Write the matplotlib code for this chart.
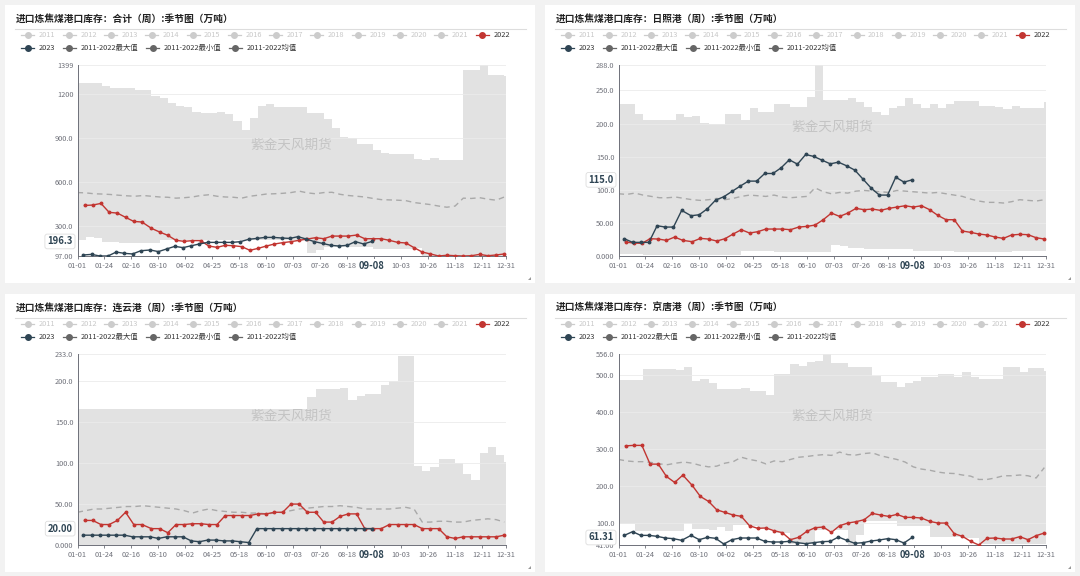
import numpy as np
import pandas as pd
import matplotlib
matplotlib.use('Agg')
import matplotlib.pyplot as plt
from matplotlib.patches import Rectangle, Polygon
from matplotlib.lines import Line2D

plt.rcParams['font.family'] = ['Noto Sans CJK SC', 'DejaVu Sans']

W, H = 1080, 576

# ---- dados (semanais) ----
dates_2022 = pd.date_range('2022-01-07', '2022-12-30', freq='7D')
dates_2023 = pd.date_range('2023-01-06', '2023-09-08', freq='7D')
band_idx = np.arange(0, 366, 7)   # grade semanal da faixa 2011-2022

titles = [
    '进口炼焦煤港口库存：合计（周）:季节图（万吨）',
    '进口炼焦煤港口库存：日照港（周）:季节图（万吨）',
    '进口炼焦煤港口库存：连云港（周）:季节图（万吨）',
    '进口炼焦煤港口库存：京唐港（周）:季节图（万吨）',
]
legend_years = ['2011', '2012', '2013', '2014', '2015', '2016', '2017', '2018',
                '2019', '2020', '2021', '2022']
legend_row2 = ['2023', '2011-2022最大值', '2011-2022最小值', '2011-2022均值']

# 合计
p1_2022 = [442, 445, 456, 395, 390, 361, 333, 329, 286, 261, 238, 204, 197, 202, 202, 165, 156, 170,
           167, 161, 136, 149, 165, 179, 188, 195, 204, 213, 222, 215, 233, 233, 233, 240, 215, 215,
           215, 204, 190, 186, 154, 124, 111, 97, 102, 99, 97, 99, 108, 99, 104, 111]
p1_2023 = [104, 108, 97, 97, 124, 115, 111, 133, 138, 127, 145, 163, 154, 167, 179, 190, 190, 190,
           190, 195, 211, 217, 224, 224, 220, 217, 229, 213, 195, 183, 170, 165, 170, 195, 179, 196.3]
p1_max = [1280, 1280, 1280, 1258, 1247, 1247, 1245, 1229, 1229, 1190, 1178, 1144, 1120, 1115, 1081,
          1076, 1076, 1081, 1065, 1017, 956, 1040, 1122, 1138, 1115, 1115, 1115, 1115, 1070, 1076,
          1031, 972, 908, 904, 860, 865, 820, 801, 792, 792, 792, 756, 751, 763, 754, 751, 751,
          1369, 1369, 1399, 1331, 1331, 1325]
p1_min = [206, 224, 217, 190, 195, 183, 183, 183, 183, 183, 208, 208, 208, 208, 208, 208, 208, 208,
          208, 208, 208, 208, 208, 208, 208, 208, 208, 208, 115, 138, 161, 161, 161, 161, 161, 161,
          142, 142, 142, 142, 142, 149, 97, 97, 97, 97, 97, 97, 97, 97, 97, 97, 97]
p1_mean = [530, 528, 522, 520, 517, 512, 508, 505, 510, 505, 500, 498, 492, 495, 500, 510, 515, 505,
           500, 498, 492, 505, 512, 520, 522, 525, 530, 540, 528, 522, 530, 532, 518, 510, 505, 500,
           490, 482, 480, 478, 475, 462, 455, 448, 438, 430, 438, 492, 490, 495, 485, 478, 500]

# 日照港
p2_2022 = [21.1, 19.6, 19.1, 26.1, 25.6, 23.6, 28.6, 23.6, 21.6, 26.6, 25.6, 22.6, 26.1, 33.2, 39.7,
           34.7, 36.7, 40.7, 40.7, 40.7, 39.7, 43.7, 44.7, 46.7, 54.8, 64.8, 59.8, 64.8, 71.9, 69.9,
           70.9, 68.9, 71.9, 73.9, 75.9, 73.9, 75.9, 69.9, 61.3, 54.8, 54.8, 37.7, 35.7, 33.2, 31.7,
           28.6, 26.6, 31.7, 32.7, 32.2, 27.6, 25.6]
p2_2023 = [26.1, 20.6, 20.6, 20.6, 45.7, 43.7, 43.7, 68.9, 60.8, 62.3, 71.4, 84.4, 89.5, 97.5, 105.5,
           113.1, 113.1, 124.6, 124.6, 133.2, 145.3, 138.7, 153.3, 150.3, 144.7, 139.2, 141.7, 136.2,
           129.7, 116.1, 102.5, 92.0, 92.0, 119.0, 111.6, 115.0]
p2_max = [230, 230, 214, 205, 205, 205, 205, 215, 210, 211, 201, 200, 200, 215, 215, 205, 223, 218,
          218, 229, 229, 225, 225, 240, 288, 235, 235, 235, 238, 233, 225, 218, 213, 224, 226, 238,
          230, 223, 230, 223, 230, 234, 234, 234, 227, 227, 225, 222, 227, 224, 224, 224, 232]
p2_min = [3, 3, 3, 2, 2, 2, 2, 2, 2, 2, 2, 2, 2, 2, 2, 7, 8, 8, 8, 6, 6, 6, 6, 6, 6, 6, 17, 15, 12, 12,
          11, 11, 10, 10, 11, 11, 7, 7, 7, 7, 7, 6, 6, 6, 6, 6, 6, 6, 7, 7, 7, 7, 7]
p2_mean = [94, 93, 95, 92, 90, 88, 88, 89, 87, 85, 84, 85, 87, 85, 87, 90, 92, 91, 90, 92, 89, 88, 89,
           90, 103, 97, 94, 96, 95, 98, 99, 98, 97, 96, 99, 98, 97, 96, 95, 96, 94, 92, 90, 86, 83,
           81, 81, 80, 82, 85, 84, 83, 85]

# 连云港
p3_2022 = [30, 30, 25, 25, 30, 40, 25, 25, 20, 20, 15, 25, 25, 26, 26, 25, 25, 36, 36, 36, 36, 38, 38,
           40, 40, 50, 50, 40, 40, 28, 28, 35, 38, 38, 20, 20, 20, 25, 25, 25, 25, 20, 20, 20, 10, 8,
           10, 10, 10, 10, 10, 12]
p3_2023 = [12, 12, 12, 12, 12, 12, 10, 10, 10, 8, 10, 10, 10, 5, 4, 6, 6, 5, 5, 4, 3, 20, 20, 20, 20,
           20, 20, 20, 20, 20, 20, 20, 20, 20, 20, 20]
p3_max = [166, 166, 166, 166, 166, 166, 166, 166, 166, 166, 166, 166, 166, 166, 166, 166, 166, 166,
          166, 166, 166, 166, 166, 166, 166, 166, 166, 166, 181, 191, 190, 190, 192, 177, 182, 184,
          184, 196, 200, 231, 231, 97, 90, 95, 105, 105, 100, 87, 79, 113, 120, 110, 101]
p3_min = [0, 0, 0, 0, 0, 0, 0, 0, 0, 0, 0, 0, 0, 0, 0, 0, 0, 0, 0, 0, 0, 0, 0, 0, 0, 0, 0, 0, 0, 0,
          0, 0, 0, 0, 0, 0, 0, 0, 0, 0, 0, 0, 0, 0, 0, 0, 0, 0, 0, 0, 0, 0, 0]
p3_mean = [40, 42, 44, 44, 45, 46, 47, 47, 48, 47, 46, 45, 44, 42, 39, 42, 44, 42, 41, 40, 40, 39, 39,
           38, 39, 40, 42, 44, 45, 46, 47, 47, 48, 47, 46, 44, 44, 44, 44, 45, 46, 44, 28, 28, 29, 29,
           28, 28, 30, 31, 32, 31, 28]

# 京唐港
p4_2022 = [308.8, 310, 310, 259.4, 259.4, 226, 210, 229.7, 202, 172, 158.7, 136, 129, 122, 118.3, 93,
           86, 87, 79.6, 74.3, 55.4, 61.7, 77.9, 87.7, 89.5, 75.2, 93.1, 100.3, 103.9, 109.3, 126.4,
           121.9, 118.3, 123.7, 115.6, 115.6, 113.8, 104.8, 100.3, 100.3, 71.6, 64.4, 50.9, 41, 59,
           59.9, 57.2, 57.2, 63.5, 55.4, 66.2, 73.4]
p4_2023 = [67, 77, 67, 67, 64.4, 59.9, 58.1, 53.6, 67, 55.4, 61.7, 59, 43.7, 55.4, 59.9, 59.9, 59.9,
           50.9, 49.1, 49.1, 50.9, 47.3, 44.6, 47.3, 50, 50.9, 62.6, 53.6, 45.5, 47.3, 51.8, 54.5,
           58.1, 55.4, 46.4, 61.31]
p4_max = [487, 487, 487, 516, 516, 516, 516, 514, 523, 485, 489, 478, 463, 462, 462, 466, 458, 458,
          446, 503, 503, 530, 524, 535, 538, 556, 532, 532, 523, 523, 521, 498, 480, 481, 468, 478,
          484, 496, 496, 503, 503, 496, 509, 496, 490, 490, 490, 523, 523, 507, 518, 518, 512]
p4_min = [98, 98, 80, 80, 80, 80, 80, 80, 100, 85, 85, 82, 89, 80, 95, 95, 93, 86, 84, 73, 73, 45, 45,
          45, 82, 82, 82, 82, 41, 68, 107, 107, 105, 105, 91, 91, 91, 91, 62, 62, 62, 62, 59, 59, 45,
          45, 45, 45, 45, 45, 45, 45, 45]
p4_mean = [272, 268, 266, 266, 264, 260, 258, 262, 265, 262, 256, 252, 254, 262, 266, 278, 272, 268,
           260, 268, 266, 272, 278, 280, 283, 285, 283, 292, 285, 284, 288, 290, 282, 277, 272, 265,
           252, 246, 243, 238, 235, 234, 230, 227, 218, 218, 222, 228, 228, 230, 228, 222, 250]

# ---- estilo ----
RED = '#c23531'
NAVY = '#2f4554'
BAND = '#e2e2e2'
MEAN = '#a9a9a9'
AXIS = '#6e7079'
LABEL = '#6e7079'


def cat_index(dates):
    # eixo de categorias MM-DD baseado num ano bissexto (366 dias)
    return np.array([pd.Timestamp(2024, d.month, d.day).dayofyear - 1 for d in dates])


def fmt(v):
    if v >= 1000:
        return f'{v:.0f}'
    if v >= 100:
        return f'{v:.1f}'
    if v >= 10:
        return f'{v:.2f}'
    return f'{v:.3f}'


def fxy(x, y):
    return x / W, 1 - y / H


fig = plt.figure(figsize=(W / 100, H / 100), dpi=100, facecolor='#f2f2f2')

# (título, dx, dy, ymin, ymax, yticks, máx, mín, média, 2022, 2023, y da marca d'água no cartão)
panels = [
    (titles[0], 0, 0, 97, 1399, [97, 300, 600, 900, 1200, 1399], p1_max, p1_min, p1_mean, p1_2022, p1_2023, 145),
    (titles[1], 540, 0, 0, 288, [0, 50, 100, 150, 200, 250, 288], p2_max, p2_min, p2_mean, p2_2022, p2_2023, 127),
    (titles[2], 0, 289, 0, 233, [0, 50, 100, 150, 200, 233], p3_max, p3_min, p3_mean, p3_2022, p3_2023, 127),
    (titles[3], 540, 289, 41, 556, [41, 100, 200, 300, 400, 500, 556], p4_max, p4_min, p4_mean, p4_2022, p4_2023, 127),
]

x22 = cat_index(dates_2022)
x23 = cat_index(dates_2023)
ptr_x = int(x23[-1])
ptr_lbl = (pd.Timestamp('2024-01-01') + pd.Timedelta(days=ptr_x)).strftime('%m-%d')
xticks = list(range(0, 366, 23)) + [365]
# o rótulo do ponteiro (09-08) encobre o da marca 09-10
xlabels = ['' if abs(i - ptr_x) < 5 else (pd.Timestamp('2024-01-01') + pd.Timedelta(days=int(i))).strftime('%m-%d')
           for i in xticks]

for title, dx, dy, ylo, yhi, yt, vmax, vmin, vmean, s22, s23, wm_y in panels:
    # cartão branco
    fig.patches.append(Rectangle(fxy(5 + dx, 283 + dy), 530 / W, 278 / H, transform=fig.transFigure,
                                 facecolor='white', edgecolor='none', zorder=-5))
    fig.text(*fxy(15.5 + dx, 18.8 + dy), title, fontsize=7.0, fontweight='bold', color='#222222',
             va='center', ha='left')
    fig.add_artist(Line2D([fxy(15 + dx, 0)[0], fxy(526 + dx, 0)[0]], [fxy(0, 28.5 + dy)[1]] * 2,
                          transform=fig.transFigure, color='#dddddd', lw=0.8))
    # canto
    cx, cy = 531 + dx, 280 + dy
    fig.patches.append(Polygon([fxy(cx - 3, cy), fxy(cx, cy), fxy(cx, cy - 3)], closed=True,
                               transform=fig.transFigure, facecolor='#999999', edgecolor='none'))

    # legenda
    rows = [(legend_years, 35.2), (legend_row2, 48.2)]
    row2_x = [38.9, 80.2, 163.6, 246.2]
    for r, (names, ly) in enumerate(rows):
        for i, name in enumerate(names):
            tx = (38.9 + 41.3 * i if r == 0 else row2_x[i]) + dx
            if r == 0 and name != '2022':
                col, tcol = '#cccccc', '#c8c8c8'
            elif name == '2022':
                col, tcol = RED, '#333333'
            elif name == '2023':
                col, tcol = NAVY, '#333333'
            else:
                col, tcol = '#666666', '#333333'
            lx0, lx1 = fxy(tx - 17.5, 0)[0], fxy(tx - 4.5, 0)[0]
            yy = fxy(0, ly + dy)[1]
            fig.add_artist(Line2D([lx0, lx1], [yy, yy], transform=fig.transFigure, color=col, lw=0.9))
            fig.add_artist(Line2D([fxy(tx - 11, 0)[0]], [yy], transform=fig.transFigure, color=col,
                                  marker='o', markersize=4.0, lw=0))
            fig.text(fxy(tx, 0)[0], yy, name, fontsize=5.3, color=tcol, va='center', ha='left')

    # eixos
    x0, x1 = 77.5 + dx + (1 if dx else 0), 505.5 + dx
    y0, y1 = 65.3 + dy, 256.0 + dy
    ax = fig.add_axes([x0 / W, 1 - y1 / H, (x1 - x0) / W, (y1 - y0) / H])
    ax.set_zorder(2)
    ax.set_facecolor('none')
    ax.set_xlim(0, 365)
    ax.set_ylim(ylo, yhi)

    xs = np.append(band_idx, 365)
    hi = np.append(vmax, vmax[-1])
    lo = np.append(vmin, vmin[-1])
    ax.fill_between(xs, lo, hi, step='post', color=BAND, lw=0, zorder=1)
    for v in yt[1:]:
        ax.axhline(v, color='#ebebeb', lw=0.6, zorder=1.5)
    ax.plot(band_idx, vmean, color=MEAN, lw=1.0, dashes=(4, 3), zorder=2)
    ax.plot(x22, s22, color=RED, lw=1.0, marker='o', markersize=1.8, zorder=3)
    ax.plot(x23, s23, color=NAVY, lw=1.0, marker='o', markersize=1.8, zorder=4)
    ax.text(0.5, 1 - (wm_y - 65.3) / (y1 - y0), '紫金天风期货', transform=ax.transAxes,
            fontsize=9.8, color='#c4c4c4', ha='center', va='center', zorder=2.5)

    for s in ['top', 'right']:
        ax.spines[s].set_visible(False)
    for s in ['left', 'bottom']:
        ax.spines[s].set_color(AXIS)
        ax.spines[s].set_linewidth(0.7)
    ax.set_yticks(yt)
    ax.set_yticklabels([fmt(v) for v in yt])
    ax.set_xticks(xticks)
    ax.set_xticklabels(xlabels)
    ax.tick_params(axis='y', length=0, pad=3, labelsize=5.3, labelcolor=LABEL)
    ax.tick_params(axis='x', length=2.2, width=0.6, color=AXIS, pad=2.2, labelsize=5.3, labelcolor=LABEL)

    # rótulos do ponteiro
    ax.annotate(ptr_lbl, xy=(ptr_x, 0), xycoords=('data', 'axes fraction'), xytext=(0, -6.9),
                textcoords='offset points', ha='center', va='center', fontsize=6.8, fontweight='bold',
                color=NAVY, zorder=10, annotation_clip=False,
                bbox=dict(boxstyle='square,pad=0.15', facecolor='white', edgecolor='none'))
    ax.annotate(fmt(s23[-1]), xy=(0, s23[-1]), xycoords=('axes fraction', 'data'), xytext=(-3.5, 0),
                textcoords='offset points', ha='right', va='center', fontsize=6.8, fontweight='bold',
                color=NAVY, zorder=10, annotation_clip=False,
                bbox=dict(boxstyle='round,pad=0.25', facecolor='white', edgecolor='#dddddd', lw=0.6))

fig.savefig('out.png', dpi=100, facecolor=fig.get_facecolor())
